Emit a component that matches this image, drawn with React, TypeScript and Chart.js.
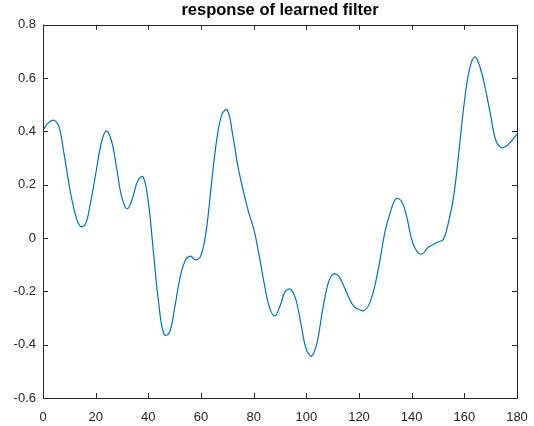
import React, { useEffect, useRef } from "react";
import { Chart, registerables } from "chart.js";

Chart.register(...registerables);

const titleText = "response of learned filter";

const sampleX: number[] = [
  0, 2, 4, 6, 8, 10, 12, 14, 16, 18, 20, 22, 24, 26, 28, 30, 32, 34, 36, 38,
  40, 42, 44, 46, 48, 50, 52, 54, 56, 58, 60, 62, 64, 66, 68, 70, 72, 74, 76, 78,
  80, 82, 84, 86, 88, 90, 92, 94, 96, 98, 100, 102, 104, 106, 108, 110, 112, 114, 116, 118,
  120, 122, 124, 126, 128, 130, 132, 134, 136, 138, 140, 142, 144, 146, 148, 150, 152, 154, 156, 158,
  160, 162, 164, 166, 168, 170, 172, 174, 176, 178, 180,
];

const responseValues: number[] = [
  0.405, 0.432, 0.442, 0.42, 0.315, 0.195, 0.1, 0.046, 0.05, 0.13, 0.24, 0.35, 0.402, 0.365, 0.26, 0.15, 0.11, 0.15, 0.215, 0.23,
  0.135, -0.06, -0.25, -0.362, -0.355, -0.262, -0.15, -0.085, -0.068, -0.082, -0.065, 0.03, 0.206, 0.37, 0.465, 0.48, 0.39, 0.27, 0.18, 0.1,
  0.035, -0.06, -0.17, -0.26, -0.292, -0.255, -0.2, -0.192, -0.23, -0.325, -0.418, -0.442, -0.395, -0.28, -0.18, -0.136, -0.14, -0.175, -0.22, -0.255,
  -0.268, -0.272, -0.245, -0.18, -0.08, 0.03, 0.1, 0.147, 0.14, 0.085, -0.005, -0.05, -0.06, -0.037, -0.025, -0.015, -0.005, 0.06, 0.16, 0.33,
  0.51, 0.635, 0.68, 0.64, 0.56, 0.46, 0.365, 0.34, 0.345, 0.365, 0.39,
];

const xTickStep = 20;
const yTickStep = 0.2;

const INK = "#262626";
const FONT = "'Liberation Sans', Arial, Helvetica, sans-serif";

const boxPlugin = {
  id: "matlabBox",
  afterDraw(chart: any) {
    const { ctx, chartArea } = chart;
    const { left, right, top, bottom } = chartArea;
    const xs = chart.scales.x;
    const ys = chart.scales.y;
    const tl = 5;
    ctx.save();
    ctx.strokeStyle = INK;
    ctx.lineWidth = 1;
    ctx.beginPath();
    ctx.rect(Math.round(left) + 0.5, Math.round(top) + 0.5, Math.round(right - left), Math.round(bottom - top));
    ctx.stroke();
    ctx.beginPath();
    xs.ticks.forEach((t: any) => {
      const px = Math.round(xs.getPixelForValue(t.value)) + 0.5;
      ctx.moveTo(px, bottom);
      ctx.lineTo(px, bottom - tl);
      ctx.moveTo(px, top);
      ctx.lineTo(px, top + tl);
    });
    ys.ticks.forEach((t: any) => {
      const py = Math.round(ys.getPixelForValue(t.value)) + 0.5;
      ctx.moveTo(left, py);
      ctx.lineTo(left + tl, py);
      ctx.moveTo(right, py);
      ctx.lineTo(right - tl, py);
    });
    ctx.stroke();
    ctx.restore();
  },
};

export default function App() {
  const canvasRef = useRef<HTMLCanvasElement | null>(null);

  useEffect(() => {
    const canvas = canvasRef.current;
    if (!canvas) return;
    const points = sampleX.map((x, i) => ({ x, y: responseValues[i] }));
    const chart = new Chart(canvas, {
      type: "line",
      data: {
        datasets: [
          {
            label: "response",
            data: points,
            borderColor: "#0072BD",
            borderWidth: 1.2,
            pointRadius: 0,
            fill: false,
            tension: 0.4,
          },
        ],
      },
      options: {
        animation: false,
        responsive: false,
        layout: { padding: { left: 0, right: 17, top: 0, bottom: 0 } },
        plugins: {
          legend: { display: false },
          tooltip: { enabled: false },
          title: {
            display: true,
            text: titleText,
            fullSize: false,
            color: "#000000",
            font: { family: FONT, size: 16.5, weight: "bold" },
            padding: { top: 1, bottom: 4 },
          },
        },
        scales: {
          x: {
            type: "linear",
            min: 0,
            max: 180,
            grid: { display: false, drawTicks: false },
            border: { display: false },
            ticks: {
              stepSize: xTickStep,
              color: INK,
              padding: 12,
              font: { family: FONT, size: 13 },
              maxRotation: 0,
            },
            afterFit(scale: any) {
              scale.height = 28;
              scale.paddingLeft = 0;
              scale.paddingRight = 0;
            },
          },
          y: {
            type: "linear",
            min: -0.6,
            max: 0.8,
            grid: { display: false, drawTicks: false },
            border: { display: false },
            ticks: {
              stepSize: yTickStep,
              color: INK,
              padding: 7,
              font: { family: FONT, size: 13 },
            },
            afterFit(scale: any) {
              scale.width = 43;
              scale.paddingTop = 0;
              scale.paddingBottom = 0;
            },
          },
        },
      },
      plugins: [boxPlugin],
    });
    return () => chart.destroy();
  }, []);

  return (
    <div style={{ position: "absolute", left: 0, top: 0, width: 534, height: 426, background: "#ffffff" }}>
      <canvas ref={canvasRef} width={534} height={426} style={{ display: "block" }} />
    </div>
  );
}
